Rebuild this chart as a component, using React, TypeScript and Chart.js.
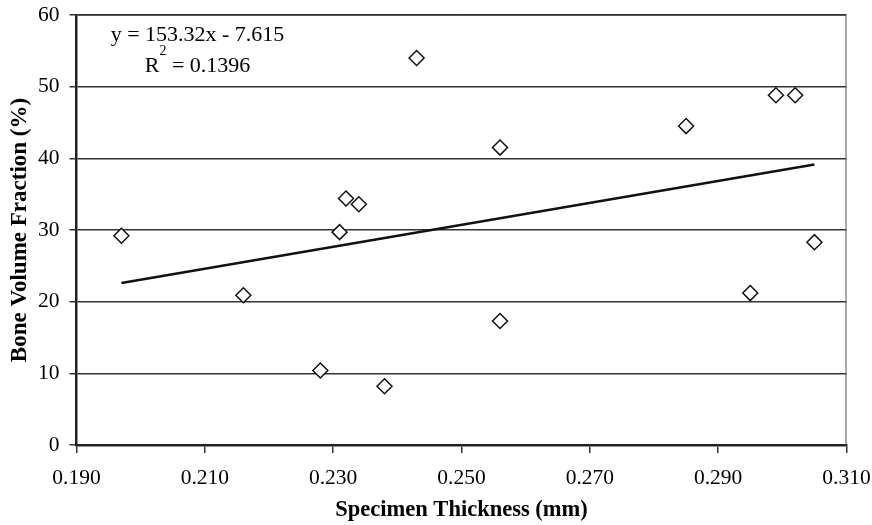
import React, { useEffect, useRef } from "react";
import { Chart, registerables } from "chart.js";

Chart.register(...registerables);

const thickness = [0.197, 0.216, 0.228, 0.238, 0.231, 0.232, 0.234, 0.243, 0.256, 0.256, 0.285, 0.299, 0.302, 0.295, 0.305];
const boneFraction = [29.2, 20.9, 10.4, 8.2, 29.7, 34.4, 33.6, 54.0, 41.5, 17.3, 44.5, 48.8, 48.8, 21.2, 28.3];
const trendX = [0.197, 0.305];
const trendY = [22.59, 39.15];
const xTicks = [0.19, 0.21, 0.23, 0.25, 0.27, 0.29, 0.31];
const yTicks = [0, 10, 20, 30, 40, 50, 60];
const eqLine1 = "y = 153.32x - 7.615";
const eqLine2Pre = "R";
const eqLine2Sup = "2";
const eqLine2Post = " = 0.1396";

const FONT = "'Liberation Serif', 'Times New Roman', serif";

const framePlugin = {
  id: "frame",
  beforeDatasetsDraw(chart: any) {
    const { ctx, chartArea } = chart;
    ctx.save();
    ctx.strokeStyle = "#555";
    ctx.lineWidth = 1;
    ctx.beginPath();
    ctx.moveTo(chartArea.left, chartArea.top + 0.5);
    ctx.lineTo(chartArea.right - 0.5, chartArea.top + 0.5);
    ctx.lineTo(chartArea.right - 0.5, chartArea.bottom);
    ctx.stroke();
    ctx.restore();
  },
};

const equationPlugin = {
  id: "equation",
  afterDraw(chart: any) {
    const { ctx, chartArea } = chart;
    const cx = chartArea.left + 121;
    ctx.save();
    ctx.fillStyle = "#000";
    ctx.textBaseline = "alphabetic";
    ctx.font = `22px ${FONT}`;
    ctx.textAlign = "center";
    ctx.fillText(eqLine1, cx, chartArea.top + 26);
    ctx.textAlign = "left";
    const wPre = ctx.measureText(eqLine2Pre).width;
    const wPost = ctx.measureText(eqLine2Post).width;
    ctx.font = `14px ${FONT}`;
    const wSup = ctx.measureText(eqLine2Sup).width;
    const total = wPre + wSup + wPost;
    let x = cx - total / 2;
    const base = chartArea.top + 56.7;
    ctx.font = `22px ${FONT}`;
    ctx.fillText(eqLine2Pre, x, base);
    x += wPre;
    ctx.font = `14px ${FONT}`;
    ctx.fillText(eqLine2Sup, x, base - 16.5);
    x += wSup;
    ctx.font = `22px ${FONT}`;
    ctx.fillText(eqLine2Post, x, base);
    ctx.restore();
  },
};

const zeroPad = (s: any) => {
  s.paddingTop = 0;
  s.paddingBottom = 0;
  s.paddingLeft = 0;
  s.paddingRight = 0;
};

export default function App() {
  const ref = useRef<HTMLCanvasElement>(null);
  useEffect(() => {
    if (!ref.current) return;
    const chart = new Chart(ref.current, {
      type: "scatter",
      data: {
        datasets: [
          {
            type: "line",
            data: trendX.map((x, i) => ({ x, y: trendY[i] })),
            borderColor: "#111",
            borderWidth: 2.5,
            pointRadius: 0,
            fill: false,
            order: 2,
          } as any,
          {
            data: thickness.map((x, i) => ({ x, y: boneFraction[i] })),
            pointStyle: "rectRot",
            pointRadius: 7.5,
            pointBorderWidth: 1.5,
            borderColor: "#111",
            backgroundColor: "#fff",
            pointBackgroundColor: "#fff",
            pointBorderColor: "#111",
            order: 1,
          },
        ],
      },
      options: {
        responsive: false,
        animation: false,
        devicePixelRatio: 1,
        layout: { padding: { top: 15, right: 25.5, left: 0, bottom: 0 } },
        plugins: { legend: { display: false }, tooltip: { enabled: false } },
        scales: {
          x: {
            type: "linear",
            min: 0.19,
            max: 0.31,
            afterBuildTicks: (s: any) => {
              s.ticks = xTicks.map((v) => ({ value: v }));
            },
            afterFit: (s: any) => {
              s.height = 80;
              zeroPad(s);
            },
            ticks: {
              callback: (v: any) => Number(v).toFixed(3),
              font: { family: FONT, size: 21.5 },
              color: "#000",
              padding: 12,
              maxRotation: 0,
              autoSkip: false,
            },
            grid: {
              drawOnChartArea: false,
              drawTicks: true,
              tickLength: 8,
              color: "#333",
              lineWidth: 1.5,
            },
            border: { display: true, color: "#222", width: 2.5 },
            title: {
              display: true,
              text: "Specimen Thickness (mm)",
              font: { family: FONT, size: 22.5, weight: "bold" },
              color: "#000",
              padding: { top: 0, bottom: 1 },
            },
          },
          y: {
            type: "linear",
            min: 0,
            max: 60,
            afterBuildTicks: (s: any) => {
              s.ticks = yTicks.map((v) => ({ value: v }));
            },
            afterFit: (s: any) => {
              s.width = 76.5;
              zeroPad(s);
            },
            ticks: {
              font: { family: FONT, size: 21.5 },
              color: "#000",
              padding: 10,
            },
            grid: {
              drawOnChartArea: true,
              drawTicks: true,
              tickLength: 7,
              color: "#333",
              lineWidth: 1.5,
            },
            border: { display: true, color: "#222", width: 2.5 },
            title: {
              display: true,
              text: "Bone Volume Fraction (%)",
              font: { family: FONT, size: 23, weight: "bold" },
              color: "#000",
              padding: { top: 6, bottom: 0 },
            },
          },
        },
      },
      plugins: [framePlugin, equationPlugin],
    });
    return () => chart.destroy();
  }, []);
  return (
    <div style={{ position: "absolute", left: 0, top: 0, width: 872, height: 525, background: "#fff" }}>
      <canvas ref={ref} width={872} height={525} style={{ display: "block" }} />
    </div>
  );
}
